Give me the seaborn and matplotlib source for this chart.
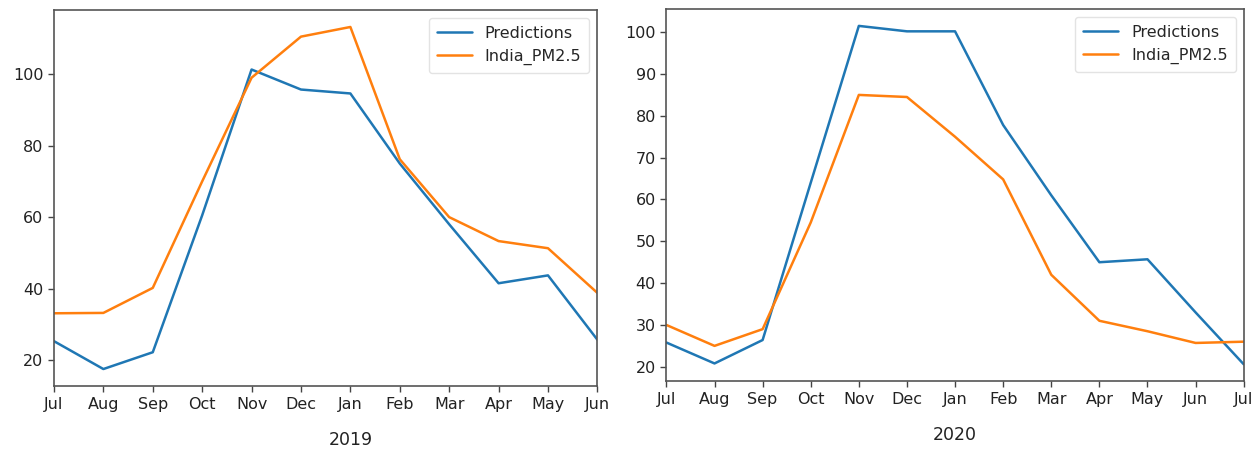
import matplotlib
matplotlib.use("Agg")
import matplotlib.pyplot as plt
import matplotlib.transforms as mtransforms
import seaborn as sns
import pandas as pd

# Monthly PM2.5: model predictions vs observed national average
months_2019 = ["Jul", "Aug", "Sep", "Oct", "Nov", "Dec", "Jan", "Feb", "Mar", "Apr", "May", "Jun"]
pred_2019 = [25.3, 17.5, 22.2, 60.5, 101.3, 95.7, 94.6, 75.0, 58.0, 41.5, 43.7, 25.7]
obs_2019 = [33.1, 33.2, 40.2, 70.0, 99.0, 110.5, 113.2, 76.2, 60.0, 53.3, 51.3, 38.8]

months_2020 = ["Jul", "Aug", "Sep", "Oct", "Nov", "Dec", "Jan", "Feb", "Mar", "Apr", "May", "Jun", "Jul"]
pred_2020 = [25.8, 20.8, 26.4, 64.0, 101.5, 100.2, 100.2, 77.8, 61.0, 45.0, 45.7, 33.0, 20.6]
obs_2020 = [30.0, 25.0, 29.0, 54.5, 85.0, 84.5, 75.0, 64.8, 42.0, 31.0, 28.5, 25.7, 26.0]

series_names = ["Predictions", "India_PM2.5"]
year_labels = ["2019", "2020"]
yticks_2019 = [20, 40, 60, 80, 100]
yticks_2020 = [20, 30, 40, 50, 60, 70, 80, 90, 100]

sns.set_theme(style="white")
plt.rcParams["font.family"] = ["DejaVu Sans"]
FS = 11.5
palette = {series_names[0]: "#1f77b4", series_names[1]: "#ff7f0e"}

fig = plt.figure(figsize=(12.55, 4.49), dpi=100)
ax1 = fig.add_axes([0.043, 0.140, 0.433, 0.838])
ax2 = fig.add_axes([0.531, 0.151, 0.460, 0.829])


def draw_panel(ax, months, pred, obs, year, yticks):
    idx = list(range(len(months)))
    df = pd.DataFrame({
        "idx": idx * 2,
        "value": list(pred) + list(obs),
        "series": [series_names[0]] * len(idx) + [series_names[1]] * len(idx),
    })
    sns.lineplot(data=df, x="idx", y="value", hue="series", palette=palette,
                 linewidth=1.8, ax=ax)
    ax.set_xlim(0, len(months) - 1)
    ax.set_xticks(idx)
    ax.set_xticklabels(months)
    ax.set_yticks(yticks)
    ax.set_xlabel("")
    ax.set_ylabel("")
    ax.tick_params(axis="both", labelsize=FS, length=4, width=1,
                   color="#444444", labelcolor="#222222", bottom=True, left=True)
    for sp in ax.spines.values():
        sp.set_color("#555555")
        sp.set_linewidth(1.2)
    leg = ax.legend(loc="upper right", fontsize=FS, frameon=True,
                    handlelength=2.2, borderpad=0.5)
    leg.get_frame().set_edgecolor("#dddddd")
    for h in leg.get_lines():
        h.set_linewidth(1.8)
    # year label sits beneath the January tick
    jan = months.index("Jan")
    trans = mtransforms.blended_transform_factory(ax.transData, ax.transAxes)
    ax.annotate(year, xy=(jan, 0), xycoords=trans, xytext=(0, -32),
                textcoords="offset points", ha="center", va="top",
                fontsize=FS + 1, color="#222222")


draw_panel(ax1, months_2019, pred_2019, obs_2019, year_labels[0], yticks_2019)
draw_panel(ax2, months_2020, pred_2020, obs_2020, year_labels[1], yticks_2020)

fig.savefig("out.png", dpi=100, facecolor="white")
